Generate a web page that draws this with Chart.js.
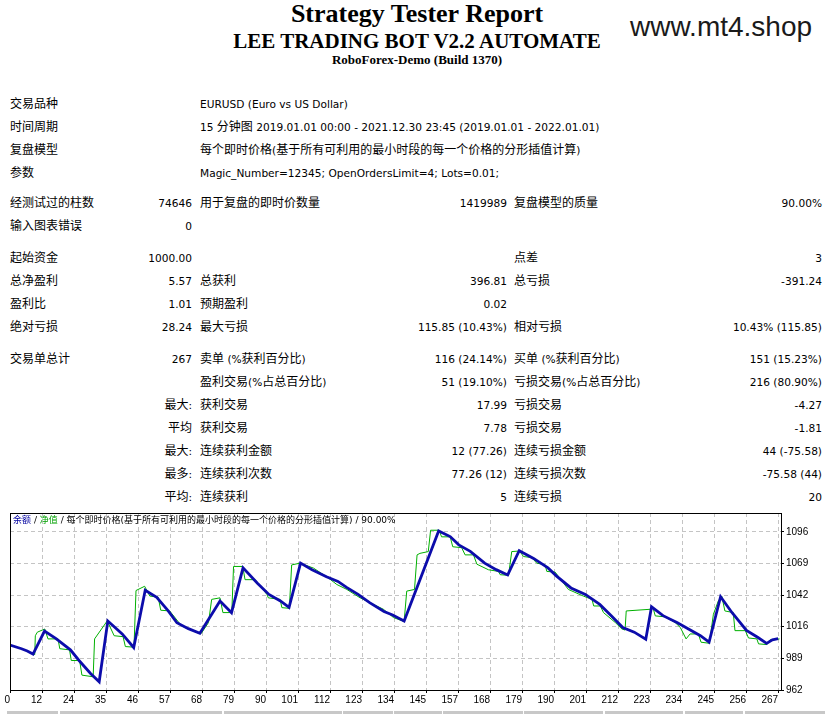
<!DOCTYPE html>
<html>
<head>
<meta charset="utf-8">
<script src="https://cdn.jsdelivr.net/npm/chart.js@4.4.1/dist/chart.umd.min.js"></script>
<style>
  body { margin:0; background:#fff; width:834px; height:714px; position:relative; overflow:hidden; }
  .h { position:absolute; left:0; width:834px; text-align:center; font-family:"Liberation Serif","Times New Roman",serif; font-weight:bold; color:#000; white-space:nowrap; }
  #site { position:absolute; left:630px; top:11px; font:28px "Liberation Sans",Arial,sans-serif; line-height:32px; color:#1a1a1a; }
  .r { position:absolute; left:0; width:834px; height:14px; line-height:14px; font-size:10.6px; font-family:"DejaVu Sans","Noto Sans CJK SC",sans-serif; color:#000; white-space:nowrap; }
  .r span { position:absolute; top:0; }
  .r .k { font-style:normal; font-size:12px; }
  .a { left:10px; } .b { right:642px; } .c { left:200px; } .d { right:327px; } .e { left:514px; } .f { right:12px; }
  #legend { position:absolute; left:13px; top:515px; font-size:9px; line-height:11px; font-family:"DejaVu Sans","Noto Sans CJK SC",sans-serif; color:#000; white-space:nowrap; z-index:2; }
  #chart { position:absolute; left:0; top:505px; }
  .g { position:absolute; top:711px; height:3px; background:#c8c8c8; }
</style>
</head>
<body>
<div class="h" style="top:0;font-size:26px;line-height:28px;">Strategy Tester Report</div>
<div class="h" style="top:29px;font-size:21px;line-height:24px;">LEE TRADING BOT V2.2 AUTOMATE</div>
<div class="h" style="top:52px;font-size:13px;line-height:16px;">RoboForex-Demo (Build 1370)</div>
<div id="site">www.mt4.shop</div>

<div class="r" style="top:97px"><span class="a">交易品种</span><span class="c">EURUSD (Euro vs US Dollar)</span></div>
<div class="r" style="top:120px"><span class="a">时间周期</span><span class="c">15 分钟图 2019.01.01 00:00 - 2021.12.30 23:45 (2019.01.01 - 2022.01.01)</span></div>
<div class="r" style="top:143px"><span class="a">复盘模型</span><span class="c">每个即时价格(基于所有可利用的最小时段的每一个价格的分形插值计算)</span></div>
<div class="r" style="top:166px"><span class="a">参数</span><span class="c">Magic_Number=12345; OpenOrdersLimit=4; Lots=0.01;</span></div>

<div class="r" style="top:196px"><span class="a">经测试过的柱数</span><span class="b">74646</span><span class="c">用于复盘的即时价数量</span><span class="d">1419989</span><span class="e">复盘模型的质量</span><span class="f">90.00%</span></div>
<div class="r" style="top:219px"><span class="a">输入图表错误</span><span class="b">0</span></div>

<div class="r" style="top:251px"><span class="a">起始资金</span><span class="b">1000.00</span><span class="e">点差</span><span class="f">3</span></div>
<div class="r" style="top:274px"><span class="a">总净盈利</span><span class="b">5.57</span><span class="c">总获利</span><span class="d">396.81</span><span class="e">总亏损</span><span class="f">-391.24</span></div>
<div class="r" style="top:297px"><span class="a">盈利比</span><span class="b">1.01</span><span class="c">预期盈利</span><span class="d">0.02</span></div>
<div class="r" style="top:320px"><span class="a">绝对亏损</span><span class="b">28.24</span><span class="c">最大亏损</span><span class="d">115.85 (10.43%)</span><span class="e">相对亏损</span><span class="f">10.43% (115.85)</span></div>

<div class="r" style="top:352px"><span class="a">交易单总计</span><span class="b">267</span><span class="c">卖单 (%获利百分比)</span><span class="d">116 (24.14%)</span><span class="e">买单 (%获利百分比)</span><span class="f">151 (15.23%)</span></div>
<div class="r" style="top:375px"><span class="c">盈利交易(%占总百分比)</span><span class="d">51 (19.10%)</span><span class="e">亏损交易(%占总百分比)</span><span class="f">216 (80.90%)</span></div>
<div class="r" style="top:398px"><span class="b">最大:</span><span class="c">获利交易</span><span class="d">17.99</span><span class="e">亏损交易</span><span class="f">-4.27</span></div>
<div class="r" style="top:421px"><span class="b">平均</span><span class="c">获利交易</span><span class="d">7.78</span><span class="e">亏损交易</span><span class="f">-1.81</span></div>
<div class="r" style="top:444px"><span class="b">最大:</span><span class="c">连续获利金额</span><span class="d">12 (77.26)</span><span class="e">连续亏损金额</span><span class="f">44 (-75.58)</span></div>
<div class="r" style="top:467px"><span class="b">最多:</span><span class="c">连续获利次数</span><span class="d">77.26 (12)</span><span class="e">连续亏损次数</span><span class="f">-75.58 (44)</span></div>
<div class="r" style="top:490px"><span class="b">平均:</span><span class="c">连续获利</span><span class="d">5</span><span class="e">连续亏损</span><span class="f">20</span></div>

<div id="legend"><span style="color:#0000a0">余额</span> / <span style="color:#00a000">净值</span> / 每个即时价格(基于所有可利用的最小时段的每一个价格的分形插值计算) / 90.00%</div>
<canvas id="chart" width="834" height="209"></canvas>

<div class="g" style="left:7px;width:51px"></div>
<div class="g" style="left:60px;width:162px"></div>
<div class="g" style="left:224px;width:118px"></div>
<div class="g" style="left:343px;width:50px"></div>
<div class="g" style="left:394px;width:48px"></div>
<div class="g" style="left:443px;width:80px"></div>
<div class="g" style="left:524px;width:79px"></div>
<div class="g" style="left:605px;width:78px"></div>
<div class="g" style="left:685px;width:58px"></div>
<div class="g" style="left:745px;width:80px"></div>

<script>
// the report's CJK glyphs are a bit larger than its latin text
document.querySelectorAll('.r span').forEach(sp => {
    sp.innerHTML = sp.textContent.replace(/([\u2E80-\u9FFF\uFF00-\uFFEF]+)/g, '<i class="k">$1</i>');
});

// axis labels as printed by the tester
const xTickLabels = [0, 12, 24, 35, 46, 57, 68, 79, 90, 101, 112, 123, 134, 145, 157, 168, 179, 190, 201, 212, 223, 234, 245, 256, 267];
const yTickLabels = [962, 989, 1016, 1042, 1069, 1096];

// balance (blue) - read at its turning points, x = trade number
const balanceTrades = [0, 4, 6, 8, 12, 16, 21, 24, 28, 31, 34, 39, 43, 47, 51, 55, 58, 62, 66, 73, 77, 81, 86, 90, 94, 97, 101, 105, 110, 114, 117, 121, 125, 130, 133, 137, 149, 153, 156, 160, 165, 169, 173, 177, 182, 187, 190, 195, 200, 205, 209, 213, 217, 221, 223, 227, 232, 236, 240, 243, 247, 251, 256, 260, 263, 265, 267];
const balanceValues = [1000, 997, 995, 992.5, 1012, 1005.5, 996, 987, 976, 969, 1020.5, 1009.5, 998, 1046.5, 1040.5, 1029, 1019, 1014, 1010, 1037.5, 1027.5, 1065.5, 1052.5, 1043, 1037.5, 1032, 1069.5, 1064, 1058, 1054, 1049, 1043, 1036, 1028.5, 1025.5, 1020.5, 1096.8, 1092, 1085, 1079.5, 1069.5, 1064, 1059.5, 1080, 1073.5, 1065.5, 1058.5, 1048.5, 1043, 1034.5, 1025, 1015, 1011, 1005, 1032.5, 1025, 1019, 1013.5, 1008, 1002.5, 1041, 1027.5, 1012.5, 1006.5, 1001.5, 1004.5, 1005.57];

// equity (green)
const equityTrades = [0, 4, 6, 8.6, 8.8, 9.5, 12.1, 13.2, 16.7, 17.3, 20.7, 21.3, 24.2, 25, 28.9, 29.4, 33.8, 36.2, 39.3, 40.1, 43.1, 43.8, 46.8, 48.6, 51.5, 52.4, 55.5, 59.6, 62.5, 66.5, 69, 70.1, 73, 74, 77.1, 77.7, 80.9, 81.7, 85.2, 89.3, 89.8, 93.9, 94.5, 97.1, 97.9, 100.8, 105.5, 110.7, 113.6, 117.1, 121.7, 126.3, 129.8, 133.3, 137, 137.9, 140.6, 141.5, 142.5, 145.4, 146.2, 149.2, 150, 153, 153.9, 157, 158.2, 161.1, 162.3, 166.3, 169.8, 170.4, 173.3, 174.4, 177.1, 178.5, 181.4, 183.1, 186, 186.6, 189.5, 194.1, 199.3, 202.3, 202.9, 205.2, 206.3, 210.4, 212.7, 213.8, 214.2, 222.5, 223.5, 224.3, 227.7, 231.2, 233, 235, 236.4, 239.3, 240.2, 243.1, 244.5, 246.2, 247.4, 248.5, 251.4, 252, 255.6, 256.7, 259.6, 260.2, 263.1, 264.2, 267.5];
const equityValues = [1000, 997, 995, 992, 1008, 1011, 1013.7, 1005.3, 1005.3, 997, 996, 987, 987, 974.6, 973.2, 1005.3, 1020.6, 1008, 1007.2, 998.8, 998.3, 1046.3, 1049.9, 1041.6, 1040.7, 1029.6, 1029, 1016.4, 1013.1, 1010, 1019.2, 1038.8, 1040.1, 1027.6, 1027.6, 1066.7, 1066.7, 1055.5, 1055.5, 1043, 1040.1, 1038.8, 1031.8, 1031.2, 1068, 1069.5, 1065.3, 1056.9, 1051.4, 1047.2, 1040.1, 1034.6, 1030.4, 1023.4, 1020, 1045.8, 1047.2, 1076.5, 1077.8, 1079.3, 1097.4, 1097.4, 1091.8, 1091.8, 1083.4, 1082.6, 1076.5, 1076.5, 1068.6, 1063.9, 1062.5, 1059.7, 1059.2, 1079.3, 1079.8, 1075.1, 1074.2, 1069.5, 1068.1, 1062.5, 1061.9, 1047.2, 1041.6, 1038.8, 1033.2, 1033.2, 1027.6, 1019.2, 1013.7, 1012.8, 1029, 1030.4, 1031.8, 1024.8, 1024, 1019.2, 1015, 1005.3, 1009.5, 1009.5, 1002.5, 1001.6, 1026.2, 1037.4, 1041.6, 1029, 1027.6, 1012.3, 1012.3, 1006.1, 1005.3, 1001.1, 1000.5, 1004.5, 1005.3];

// black box round the plot
const frame = {
    id: 'frame',
    afterDraw(chart) {
        const a = chart.chartArea, c = chart.ctx;
        c.save();
        c.strokeStyle = '#000';
        c.lineWidth = 1;
        c.strokeRect(Math.round(a.left) + 0.5, Math.round(a.top) + 0.5, Math.round(a.right - a.left), Math.round(a.bottom - a.top));
        c.restore();
    }
};

const tickFont = { family: 'Liberation Sans', size: 10 };
const xStep = xTickLabels[xTickLabels.length - 1] / (xTickLabels.length - 1);

new Chart(document.getElementById('chart').getContext('2d'), {
    type: 'line',
    data: {
        datasets: [
            { label: '余额', data: balanceTrades.map((t, i) => ({ x: t, y: balanceValues[i] })),
              borderColor: '#0c0cab', borderWidth: 2.8, pointRadius: 0, tension: 0 },
            { label: '净值', data: equityTrades.map((t, i) => ({ x: t, y: equityValues[i] })),
              borderColor: '#00b000', borderWidth: 1, pointRadius: 0, tension: 0 }
        ]
    },
    options: {
        responsive: false,
        animation: false,
        layout: { padding: { top: 6, left: 10, right: 0, bottom: 0 } },
        plugins: { legend: { display: false }, tooltip: { enabled: false } },
        scales: {
            x: {
                type: 'linear', min: 0, max: 268,
                afterBuildTicks: s => { s.ticks = xTickLabels.map((v, i) => ({ value: i * xStep })); },
                afterFit: s => { s.height = 24; },
                ticks: { align: 'end', autoSkip: false, maxRotation: 0, padding: 1, color: '#000', font: tickFont,
                         callback: (v, i) => String(xTickLabels[i]) },
                grid: { color: '#c4c4c4', tickColor: '#000', tickLength: 3, tickBorderDash: [1, 0] },
                border: { display: false, dash: [4, 3] }
            },
            y: {
                position: 'right', min: 962, max: 1112,
                afterBuildTicks: s => { s.ticks = yTickLabels.map(v => ({ value: v })); },
                afterFit: s => { s.width = 53; },
                ticks: { padding: 2, color: '#000', font: tickFont, callback: v => String(v) },
                grid: { color: '#c4c4c4', tickColor: '#000', tickLength: 3, tickBorderDash: [1, 0] },
                border: { display: false, dash: [4, 3] }
            }
        }
    },
    plugins: [frame]
});
</script>
</body>
</html>
